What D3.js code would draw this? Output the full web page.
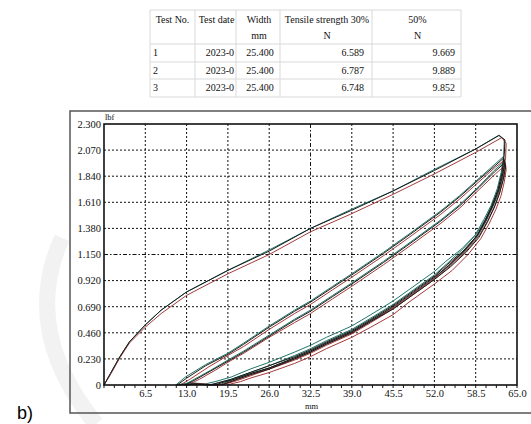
<!DOCTYPE html>
<html>
<head>
<meta charset="utf-8">
<script src="https://cdn.jsdelivr.net/npm/d3@7"></script>
<style>
  body { margin: 0; background: #fff; }
  svg { display: block; }
</style>
</head>
<body>
<div id="chart"></div>
<script>
// Table contents
const headRow1 = ["Test No.", "Test date", "Width", "Tensile strength 30%", "50%"];
const headRow2 = ["", "", "mm", "N", "N"];
const testNo = ["1", "2", "3"];
const testDate = ["2023-0", "2023-0", "2023-0"];
const widths = ["25.400", "25.400", "25.400"];
const strength30 = ["6.589", "6.787", "6.748"];
const strength50 = ["9.669", "9.889", "9.852"];

// Axis ticks
const xTicks = [6.5, 13, 19.5, 26, 32.5, 39, 45.5, 52, 58.5, 65];
const xTickLabels = ["6.5", "13.0", "19.5", "26.0", "32.5", "39.0", "45.5", "52.0", "58.5", "65.0"];
const yTicks = [0, 0.23, 0.46, 0.69, 0.92, 1.15, 1.38, 1.61, 1.84, 2.07, 2.3];
const yTickLabels = ["0", "0.230", "0.460", "0.690", "0.920", "1.150", "1.380", "1.610", "1.840", "2.070", "2.300"];

// Specimen traces [mm, lbf]: first load, then unload / reload cycles
const specimen1 = [
  [0,0],[1,0.1],[2.5,0.25],[4,0.38],[6.5,0.53],[9,0.66],[13,0.82],[19.5,1.01],[26,1.18],[32.5,1.38],[39,1.54],[45.5,1.71],[52,1.89],[58.5,2.08],[62.2,2.2],[63.1,2.16],
  [63,2.03],[62.6,1.86],[62,1.72],[61,1.57],[60,1.45],[58.6,1.31],[56.5,1.18],[54,1.06],[52,0.96],[48,0.8],[45.5,0.7],[42,0.58],[39,0.48],[35,0.38],[32.5,0.31],[30,0.25],[26,0.17],[23,0.11],[20,0.05],[18,0.02],[16.5,0],[14,0.01],[11.5,0],
  [13,0.06],[16,0.17],[19.5,0.27],[22,0.36],[26,0.51],[30,0.65],[32.5,0.73],[36,0.86],[39,0.97],[44,1.16],[48,1.32],[52.9,1.52],[56,1.66],[59,1.81],[61.5,1.93],[62.9,2],
  [63.1,1.96],[62.7,1.84],[62.1,1.71],[61.2,1.58],[60.1,1.45],[58.8,1.32],[56.7,1.18],[54.2,1.05],[52,0.95],[48,0.79],[45.5,0.69],[42,0.57],[39,0.47],[35,0.37],[32.5,0.3],[30,0.24],[26,0.15],[23,0.1],[20.5,0.05],[18.5,0.02],[17.5,0],[14.5,0.01],[12.8,0],
  [14.5,0.05],[17,0.13],[19.5,0.21],[22,0.29],[26,0.43],[30,0.57],[32.5,0.65],[36,0.78],[39,0.89],[44,1.08],[48,1.24],[52.9,1.44],[56,1.58],[59,1.74],[61.5,1.88],[63.1,1.96],
  [63.2,1.92],[62.8,1.8],[62.2,1.68],[61.4,1.56],[60.3,1.43],[59,1.3],[57,1.17],[54.5,1.04],[52,0.93],[48,0.77],[45.5,0.67],[42,0.56],[39,0.46],[35,0.36],[32.5,0.29],[30,0.23],[26,0.14],[23,0.09],[21,0.05],[19.5,0.02],[18.5,0]
];
const specimen2 = [
  [0,0],[1,0.09],[2.5,0.24],[4,0.37],[6.5,0.51],[9,0.63],[13,0.79],[19.5,0.98],[26,1.15],[32.5,1.35],[39,1.51],[45.5,1.68],[52,1.86],[58.5,2.05],[62.6,2.18],[63.3,2.13],
  [63.2,2],[62.8,1.87],[62.2,1.74],[61.3,1.6],[60.2,1.47],[58.9,1.33],[56.8,1.19],[54.3,1.06],[52,0.94],[48,0.78],[45.5,0.68],[42,0.56],[39,0.46],[35,0.36],[32.5,0.29],[30,0.23],[26,0.15],[23,0.09],[20.5,0.04],[18.8,0.01],[17.8,0],[15,0.01],[12,0],
  [13.5,0.05],[16.5,0.16],[19.5,0.26],[22,0.34],[26,0.49],[30,0.63],[32.5,0.71],[36,0.84],[39,0.95],[44,1.14],[48,1.3],[52.9,1.5],[56,1.64],[59,1.79],[61.6,1.92],[63,1.98],
  [63.2,1.94],[62.9,1.83],[62.3,1.7],[61.5,1.58],[60.4,1.45],[59.1,1.32],[57,1.18],[54.5,1.05],[52,0.93],[48,0.77],[45.5,0.67],[42,0.55],[39,0.45],[35,0.35],[32.5,0.28],[30,0.22],[26,0.14],[23,0.08],[21,0.04],[19.2,0.01],[18.2,0],[15,0.01],[13.2,0],
  [15,0.05],[17.5,0.13],[19.5,0.2],[22,0.28],[26,0.42],[30,0.55],[32.5,0.63],[36,0.76],[39,0.87],[44,1.06],[48,1.22],[52.9,1.42],[56,1.56],[59,1.72],[61.6,1.86],[63.2,1.94],
  [63.3,1.9],[63,1.79],[62.5,1.67],[61.7,1.55],[60.6,1.42],[59.3,1.29],[57.3,1.15],[54.8,1.01],[52,0.89],[48,0.73],[45.5,0.62],[42,0.51],[39,0.42],[35,0.32],[32.5,0.25],[30,0.19],[26,0.11],[23,0.06],[21.5,0.03],[20,0.01],[19.4,0]
];
const specimen3 = [
  [0,0],[1,0.1],[2.5,0.25],[4,0.38],[6.5,0.53],[9,0.66],[13,0.82],[19.5,1.01],[26,1.19],[32.5,1.38],[39,1.55],[45.5,1.71],[52,1.9],[58.5,2.08],[62.1,2.2],[63,2.16],
  [62.9,2.02],[62.5,1.87],[61.9,1.73],[60.9,1.58],[59.8,1.46],[58.4,1.32],[56.3,1.2],[53.8,1.09],[52,1],[48,0.84],[45.5,0.74],[42,0.62],[39,0.52],[35,0.42],[32.5,0.35],[30,0.29],[26,0.2],[23,0.14],[20,0.07],[17.5,0.03],[16,0.01],[13.5,0.02],[11.3,0],
  [12.8,0.07],[16,0.18],[19.5,0.28],[22,0.37],[26,0.52],[30,0.66],[32.5,0.74],[36,0.87],[39,0.98],[44,1.17],[48,1.33],[52.9,1.53],[56,1.67],[59,1.82],[61.4,1.94],[62.8,2.01],
  [63,1.97],[62.6,1.85],[62,1.72],[61.1,1.59],[60,1.46],[58.6,1.33],[56.5,1.2],[54,1.07],[52,0.97],[48,0.81],[45.5,0.71],[42,0.59],[39,0.49],[35,0.39],[32.5,0.32],[30,0.26],[26,0.17],[23,0.11],[20,0.05],[18,0.02],[17,0],[14,0.01],[12.6,0],
  [14.2,0.05],[16.8,0.13],[19.5,0.22],[22,0.3],[26,0.44],[30,0.58],[32.5,0.66],[36,0.79],[39,0.9],[44,1.09],[48,1.25],[52.9,1.45],[56,1.59],[59,1.75],[61.4,1.89],[63,1.97],
  [63.1,1.93],[62.7,1.81],[62.1,1.69],[61.2,1.57],[60.1,1.44],[58.8,1.31],[56.8,1.18],[54.3,1.05],[52,0.94],[48,0.78],[45.5,0.68],[42,0.57],[39,0.47],[35,0.37],[32.5,0.3],[30,0.24],[26,0.15],[23,0.1],[20.5,0.05],[19,0.02],[18,0]
];
const specimens = [specimen3, specimen2, specimen1];
const specimenColors = ["#23766a", "#a23c3a", "#1a1a1a"];

const SERIF = "'Liberation Serif', 'Times New Roman', Times, serif";
const W = 531, H = 424;
const svg = d3.select("#chart").append("svg").attr("width", W).attr("height", H)
  .style("font-family", SERIF);

// faint watermark stroke
svg.append("path")
  .attr("d", "M62,238 Q20,330 96,424")
  .attr("fill", "none").attr("stroke", "#f2f2f2").attr("stroke-width", 16);

// ---- table ----
const colEdges = [150, 195, 236, 280, 372, 461];
const rowEdges = [10, 44, 62, 79, 97];
const tbl = svg.append("g").attr("font-size", "10px").attr("fill", "#111");
rowEdges.forEach(y => tbl.append("line")
  .attr("x1", colEdges[0]).attr("x2", colEdges[colEdges.length - 1])
  .attr("y1", y).attr("y2", y).attr("stroke", "#d9d9d9"));
colEdges.forEach(x => tbl.append("line")
  .attr("x1", x).attr("x2", x).attr("y1", rowEdges[0]).attr("y2", rowEdges[rowEdges.length - 1])
  .attr("stroke", "#d9d9d9"));

const colCenters = colEdges.slice(0, -1).map((x, i) => (x + colEdges[i + 1]) / 2);
headRow1.forEach((t, i) => tbl.append("text")
  .attr("x", colCenters[i] + (i === 0 ? 0 : 1)).attr("y", 23)
  .attr("text-anchor", "middle").text(t));
headRow2.forEach((t, i) => tbl.append("text")
  .attr("x", colCenters[i] + 1).attr("y", 39)
  .attr("text-anchor", "middle").text(t));
const rowBase = [56, 74, 91];
testNo.forEach((t, i) => {
  const y = rowBase[i];
  tbl.append("text").attr("x", 153).attr("y", y).text(t);
  tbl.append("text").attr("x", 234).attr("y", y).attr("text-anchor", "end").text(testDate[i]);
  tbl.append("text").attr("x", 260).attr("y", y).attr("text-anchor", "middle").text(widths[i]);
  tbl.append("text").attr("x", 364).attr("y", y).attr("text-anchor", "end").text(strength30[i]);
  tbl.append("text").attr("x", 455).attr("y", y).attr("text-anchor", "end").text(strength50[i]);
});

// ---- chart ----
// outer frame (runs off the right edge)
svg.append("rect")
  .attr("x", 70).attr("y", 111).attr("width", 480).attr("height", 302)
  .attr("fill", "none").attr("stroke", "#555").attr("stroke-width", 1.5);

const x = d3.scaleLinear().domain([0, 65]).range([104, 517]);
const y = d3.scaleLinear().domain([0, 2.3]).range([385, 124]);

const grid = svg.append("g");
xTicks.filter(d => d < 65).forEach(d => grid.append("line")
  .attr("x1", x(d)).attr("x2", x(d)).attr("y1", y(2.3)).attr("y2", y(0))
  .attr("stroke", "#111").attr("stroke-width", 1)
  .attr("stroke-dasharray", d === 32.5 ? "4,2,1.5,2" : "2,2"));
yTicks.filter(d => d > 0 && d < 2.3).forEach(d => grid.append("line")
  .attr("x1", x(0)).attr("x2", x(65)).attr("y1", y(d)).attr("y2", y(d))
  .attr("stroke", "#111").attr("stroke-width", 1)
  .attr("stroke-dasharray", d === 1.15 ? "4,2,1.5,2" : "2,2"));

// minor ticks on the x axis
const minor = d3.range(0, 65.01, 1.625);
svg.append("g").selectAll("line").data(minor).join("line")
  .attr("x1", d => x(d)).attr("x2", d => x(d))
  .attr("y1", y(0)).attr("y2", y(0) + 3)
  .attr("stroke", "#111");

// curves
const line = d3.line().x(d => x(d[0])).y(d => y(d[1]));
specimens.forEach((s, i) => svg.append("path")
  .datum(s)
  .attr("fill", "none")
  .attr("stroke", specimenColors[i])
  .attr("stroke-width", 1)
  .attr("stroke-linejoin", "round")
  .attr("d", line));

// plot border
svg.append("rect")
  .attr("x", x(0)).attr("y", y(2.3)).attr("width", x(65) - x(0)).attr("height", y(0) - y(2.3))
  .attr("fill", "none").attr("stroke", "#111").attr("stroke-width", 1.6);

// axes labels
svg.append("g")
  .attr("transform", `translate(${x(0)},0)`)
  .call(d3.axisLeft(y).tickValues(yTicks).tickFormat((d, i) => yTickLabels[i]).tickSize(0).tickPadding(3))
  .attr("font-family", SERIF).attr("font-size", "10.5px")
  .call(g => g.select(".domain").remove())
  .call(g => g.selectAll("text").attr("fill", "#111"));

svg.append("g")
  .attr("transform", `translate(0,${y(0)})`)
  .call(d3.axisBottom(x).tickValues(xTicks).tickFormat((d, i) => xTickLabels[i]).tickSize(0).tickPadding(5))
  .attr("font-family", SERIF).attr("font-size", "10.5px")
  .call(g => g.select(".domain").remove())
  .call(g => g.selectAll("text").attr("fill", "#111"));

svg.append("text").attr("x", 105).attr("y", 120).attr("font-size", "8.5px").attr("fill", "#111").text("lbf");
svg.append("text").attr("x", x(32.5) + 1).attr("y", 409).attr("text-anchor", "middle")
  .attr("font-size", "8.5px").attr("fill", "#111").text("mm");

svg.append("text").attr("x", 17).attr("y", 419)
  .attr("font-size", "18px").style("font-family", "'Liberation Sans', Arial, sans-serif")
  .text("b)");
</script>
</body>
</html>
